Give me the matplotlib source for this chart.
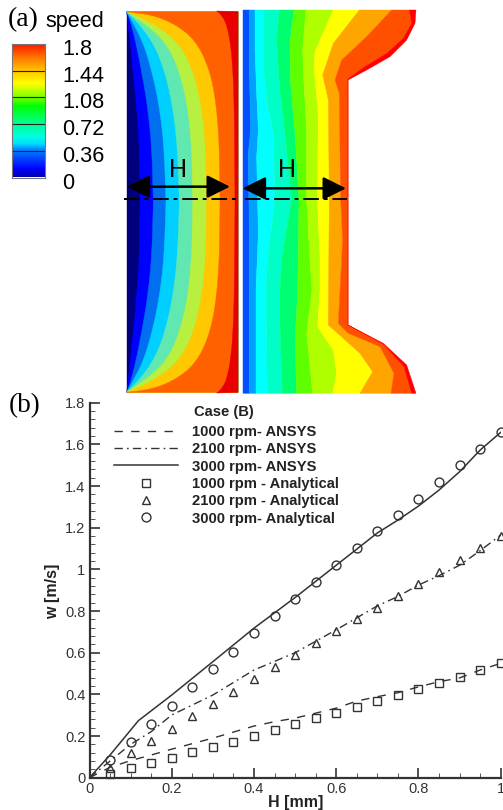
import matplotlib
matplotlib.use("Agg")
import matplotlib.pyplot as plt
import numpy as np
from matplotlib.colors import LinearSegmentedColormap
from matplotlib.ticker import MultipleLocator, FuncFormatter

W, H = 503, 810
DARK = "#333333"

# ----- contour boundaries, third-of-a-pixel units, x measured from px 120
# left panel: upper half only, the field is symmetric about mid height
left_bounds = [
    [(20, 35), (30, 120), (38, 200), (48, 300), (58, 430), (60, 606)],
    [(20, 35), (33, 70), (48, 130), (62, 200), (80, 300), (95, 430), (100, 606)],
    [(20, 35), (45, 80), (70, 130), (92, 200), (115, 300), (132, 430), (138, 606)],
    [(20, 35), (60, 75), (100, 130), (130, 200), (155, 300), (172, 430), (178, 606)],
    [(20, 35), (100, 90), (145, 140), (175, 205), (200, 300), (215, 430), (218, 606)],
    [(20, 35), (70, 55), (130, 90), (180, 135), (215, 200), (240, 290), (257, 420), (260, 606)],
    [(20, 35), (100, 45), (170, 75), (225, 120), (262, 190), (285, 280), (298, 420), (300, 606)],
    [(290, 33), (300, 40), (320, 70), (335, 150), (343, 300), (345, 606)],
]
left_colors = ["#00007f", "#0000ff", "#0070f0", "#00d0ff", "#60e8b0",
               "#b8f040", "#ffc800", "#ff6000", "#e80000"]

# right panel: boundaries running top to bottom
right_bounds = [
    [(369, 30), (369, 1180)],
    [(388, 30), (388, 200), (390, 290), (392, 390), (385, 460), (388, 700), (388, 1180)],
    [(405, 30), (405, 150), (410, 280), (415, 390), (410, 470), (415, 700), (408, 870), (408, 1180)],
    [(430, 30), (430, 200), (440, 300), (460, 400), (465, 597), (442, 780), (438, 870), (442, 1180)],
    [(478, 30), (470, 120), (478, 250), (495, 400), (515, 597), (485, 780), (478, 910), (487, 1180)],
    [(522, 30), (510, 130), (512, 250), (525, 400), (537, 597), (535, 770), (532, 900), (525, 1020), (530, 1180)],
    [(558, 30), (548, 150), (552, 250), (560, 400), (560, 597), (570, 780), (576, 870), (560, 1000), (578, 1180)],
    [(640, 30), (585, 155), (582, 200), (595, 350), (592, 597), (600, 770), (600, 870), (593, 980), (640, 1050), (650, 1120), (638, 1180)],
    [(718, 30), (640, 130), (608, 225), (625, 300), (628, 597), (625, 950), (625, 975), (720, 1060), (758, 1115), (720, 1180)],
    [(815, 30), (740, 110), (665, 180), (645, 240), (658, 280), (662, 597), (668, 720), (655, 970), (685, 1000), (780, 1040), (822, 1120), (813, 1180)],
    [(868, 30), (875, 70), (850, 115), (800, 160), (735, 200), (684, 236), (684, 975), (790, 1033), (852, 1100), (875, 1180)],
    [(888, 30), (885, 70), (860, 120), (810, 170), (740, 210), (684, 240), (684, 975), (790, 1030), (860, 1095), (888, 1180)],
]
right_colors = ["#0050ff", "#00a0ff", "#00ffff", "#00ffc8", "#00ff70", "#60ff00",
                "#b0ff00", "#ffff00", "#ffa500", "#ff5000", "#ff0000"]

# ----- colour bar
bar_levels = [0, 0.36, 0.72, 1.08, 1.44, 1.8]
bar_labels = ["0", "0.36", "0.72", "1.08", "1.44", "1.8"]
bar_stops = [(0, "#0000b0"), (0.06, "#0000ff"), (0.2, "#0080ff"), (0.25, "#00e0ff"),
             (0.3, "#00ffe0"), (0.4, "#00ff90"), (0.53, "#00ff00"), (0.6, "#80ff00"),
             (0.7, "#ffff00"), (0.8, "#ffc000"), (0.9, "#ff7000"), (1, "#ff1000")]

# ----- line chart
h_ansys_1000 = [0, 0.05, 0.1, 0.15, 0.2, 0.3, 0.4, 0.45, 0.5, 0.55, 0.6, 0.65, 0.7, 0.75, 0.8, 0.85, 0.9, 0.95, 1]
w_ansys_1000 = [0, 0.05, 0.082, 0.109, 0.137, 0.19, 0.248, 0.269, 0.286, 0.31, 0.334, 0.368, 0.389, 0.408, 0.436, 0.461, 0.479, 0.517, 0.549]
h_ansys_2100 = [0, 0.05, 0.1, 0.15, 0.2, 0.3, 0.4, 0.5, 0.6, 0.7, 0.75, 0.8, 0.85, 0.9, 0.95, 1]
w_ansys_2100 = [0, 0.08, 0.16, 0.221, 0.301, 0.397, 0.517, 0.6, 0.71, 0.825, 0.87, 0.925, 0.97, 1.02, 1.09, 1.165]
h_ansys_3000 = [0, 0.05, 0.119, 0.2, 0.3, 0.4, 0.5, 0.6, 0.7, 0.75, 0.8, 0.85, 0.9, 0.95, 1]
w_ansys_3000 = [0, 0.109, 0.274, 0.397, 0.557, 0.718, 0.865, 1.02, 1.175, 1.237, 1.304, 1.381, 1.469, 1.573, 1.658]

h_points = [0.05, 0.1, 0.15, 0.2, 0.25, 0.3, 0.35, 0.4, 0.45, 0.5, 0.55, 0.6, 0.65, 0.7, 0.75, 0.8, 0.85, 0.9, 0.95, 1]
w_ana_1000 = [0.018, 0.045, 0.069, 0.096, 0.122, 0.147, 0.173, 0.2, 0.229, 0.256, 0.285, 0.312, 0.341, 0.368, 0.395, 0.424, 0.453, 0.485, 0.517, 0.549]
w_ana_2100 = [0.046, 0.118, 0.176, 0.235, 0.295, 0.354, 0.413, 0.474, 0.533, 0.59, 0.645, 0.703, 0.76, 0.816, 0.872, 0.93, 0.987, 1.045, 1.103, 1.162]
w_ana_3000 = [0.085, 0.17, 0.256, 0.346, 0.434, 0.52, 0.605, 0.693, 0.776, 0.858, 0.94, 1.021, 1.103, 1.183, 1.261, 1.339, 1.421, 1.5, 1.578, 1.658]


def px_axes(left, top, right, bottom):
    return fig.add_axes([left / W, 1 - bottom / H, (right - left) / W, (bottom - top) / H])


def rounded(points, passes=3):
    # corner cutting so the left panel contours read as curves
    pts = list(points)
    for _ in range(passes):
        new = [pts[0]]
        for (x0, y0), (x1, y1) in zip(pts[:-1], pts[1:]):
            new.append((0.75 * x0 + 0.25 * x1, 0.75 * y0 + 0.25 * y1))
            new.append((0.25 * x0 + 0.75 * x1, 0.25 * y0 + 0.75 * y1))
        new.append(pts[-1])
        pts = new
    return pts


fig = plt.figure(figsize=(W / 100, H / 100), dpi=100)
plt.rcParams["font.family"] = ["Liberation Sans", "DejaVu Sans"]

# overlay for the contour panels, same units as the boundary lists
top = fig.add_axes([0, 0, 1, 1])
top.set_xlim(-360, 1149)
top.set_ylim(2430, 0)
top.axis("off")

MIRROR = 1212
top.fill([20, 354, 354, 20], [35, 35, MIRROR - 35, MIRROR - 35], color=left_colors[0], lw=0.3, zorder=1)
for bound, color in zip(left_bounds, left_colors[1:]):
    half = rounded(bound)
    # everything right of the boundary gets painted, later bands sit on top
    xs = [p[0] for p in half] + [q[0] for q in reversed(half)] + [354, 354]
    ys = [p[1] for p in half] + [MIRROR - q[1] for q in reversed(half)] + [MIRROR - 35, 35]
    top.fill(xs, ys, color=color, lw=0.3, zorder=1)

for i, color in enumerate(right_colors):
    a, b = right_bounds[i], right_bounds[i + 1]
    xs = [p[0] for p in a] + [q[0] for q in reversed(b)]
    ys = [p[1] for p in a] + [q[1] for q in reversed(b)]
    top.fill(xs, ys, color=color, lw=0.3, zorder=1)

# H arrows and the centre line
for x0, x1, y in [(20, 330, 560), (368, 678, 565)]:
    top.annotate("", xy=(x1, y), xytext=(x0, y), zorder=4,
                 arrowprops=dict(arrowstyle="<|-|>,head_length=1.0,head_width=0.5", color="black",
                                 lw=1.8, shrinkA=0, shrinkB=0, mutation_scale=14))
top.text(173, 510, "H", fontsize=18, ha="center", va="center", zorder=4)
top.text(500, 510, "H", fontsize=18, ha="center", va="center", zorder=4)
top.plot([12, 354], [597, 597], color="black", lw=1.4, ls=(0, (8, 2.5, 2, 2.5)), zorder=3)
top.plot([375, 680], [597, 597], color="black", lw=1.4, ls=(0, (8, 2.5, 2, 2.5)), zorder=3)

fig.text(8 / W, 1 - 20 / H, "(a)", family="Liberation Serif", fontsize=20, va="center")
fig.text(45 / W, 1 - 21 / H, "speed", fontsize=15.6, va="center")
fig.text(9 / W, 1 - 406 / H, "(b)", family="Liberation Serif", fontsize=19.5, va="center")

# colour bar
cb = px_axes(12.3, 44, 45, 177.5)
cmap = LinearSegmentedColormap.from_list("speed", bar_stops)
cb.imshow(np.linspace(1, 0, 256)[:, None], cmap=cmap, aspect="auto",
          extent=[0, 1, bar_levels[0], bar_levels[-1]])
cb.set_xticks([])
cb.set_yticks([])
for lev in bar_levels[1:-1]:
    cb.axhline(lev, color="#222222", lw=0.8)
for s in cb.spines.values():
    s.set_color("#777777")
    s.set_linewidth(0.8)
for lev, lab in zip(bar_levels, bar_labels):
    cb.annotate(lab, xy=(1, lev), xycoords=("axes fraction", "data"), xytext=(12.5, -4),
                textcoords="offset points", fontsize=15.6, va="center", annotation_clip=False)

# line chart
ax = px_axes(89.5, 402.8, 500.7, 777.7)
ax.set_xlim(0, 1)
ax.set_ylim(0, 1.8)
ax.patch.set_alpha(0)

l1, = ax.plot(h_ansys_1000, w_ansys_1000, color=DARK, lw=1, ls=(0, (6, 6)))
l2, = ax.plot(h_ansys_2100, w_ansys_2100, color=DARK, lw=1, ls=(0, (6, 3, 1.2, 3)))
l3, = ax.plot(h_ansys_3000, w_ansys_3000, color=DARK, lw=1.1)
marker_style = dict(ls="none", mfc="none", mec=DARK, mew=1.0, clip_on=False)
m1, = ax.plot(h_points, w_ana_1000, marker="s", ms=5.3, **marker_style)
m2, = ax.plot(h_points, w_ana_2100, marker="^", ms=5.5, **marker_style)
m3, = ax.plot(h_points, w_ana_3000, marker="o", ms=6.4, **marker_style)

for name in ["top", "right"]:
    ax.spines[name].set_visible(False)
for name in ["left", "bottom"]:
    ax.spines[name].set_linewidth(1.6)
    ax.spines[name].set_color(DARK)

ax.xaxis.set_major_locator(MultipleLocator(0.2))
ax.xaxis.set_minor_locator(MultipleLocator(0.05))
ax.yaxis.set_major_locator(MultipleLocator(0.2))
ax.yaxis.set_minor_locator(MultipleLocator(0.04))
fmt = FuncFormatter(lambda v, pos: f"{v:.1f}".rstrip("0").rstrip("."))
ax.xaxis.set_major_formatter(fmt)
ax.yaxis.set_major_formatter(fmt)
ax.tick_params(which="major", direction="in", length=7.5, width=1.2, color=DARK, labelcolor=DARK,
               labelsize=10.5, pad=3)
ax.tick_params(which="minor", direction="in", length=3.8, width=0.7, color="#555555")

fig.text(296 / W, 1 - 802.5 / H, "H [mm]", fontsize=11.5, fontweight="bold", color="#222222",
         ha="center", va="center")
fig.text(53 / W, 1 - 591 / H, "w [m/s]", fontsize=11.5, fontweight="bold", color="#222222",
         rotation=90, ha="center", va="center")

labels = ["1000 rpm- ANSYS", "2100 rpm- ANSYS", "3000 rpm- ANSYS",
          "1000 rpm - Analytical", "2100 rpm - Analytical", "3000 rpm- Analytical"]
ax.legend([l1, l2, l3, m1, m2, m3], labels, loc="upper left", frameon=False, numpoints=1,
          bbox_to_anchor=((114 - 89.5) / 411.2, 1 - (425 - 402.8) / 374.9), borderaxespad=0,
          borderpad=0, handlelength=4.35, handletextpad=0.95, labelspacing=0.225,
          prop=dict(weight="bold", size=10.6), labelcolor="#222222")
ax.text((194 - 89.5) / 411.2, 1 - (412 - 402.8) / 374.9, "Case (B)", transform=ax.transAxes,
        fontsize=10.6, fontweight="bold", color="#222222", va="center")

fig.savefig("out.png", dpi=100)
